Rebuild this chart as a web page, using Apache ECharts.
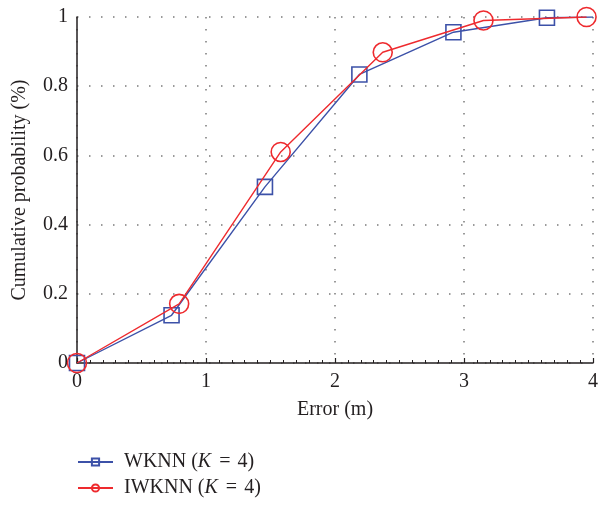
<!DOCTYPE html>
<html>
<head>
<meta charset="utf-8">
<script src="https://cdn.jsdelivr.net/npm/echarts@6/dist/echarts.min.js"></script>
<style>html,body{margin:0;padding:0;background:#fff;}#c{width:605px;height:505px;}</style>
</head>
<body>
<div id="c"></div>
<script>
// ---- data ----
const wknnX = [0, 0.733, 1.457, 2.189, 2.918, 3.643, 4.0];
const wknnY = [0, 0.138, 0.509, 0.834, 0.956, 0.998, 1.0];
const wknnMarker = [1, 1, 1, 1, 1, 1, 0];
const iwknnX = [0, 0.792, 1.579, 2.370, 3.151, 3.950];
const iwknnY = [0, 0.171, 0.610, 0.898, 0.990, 1.0];
const iwknnMarker = [1, 1, 1, 1, 1, 1];
const seriesNames = ['WKNN', 'IWKNN'];
const kLabel = 'K';
const kValue = '4';
const xTicks = [0, 1, 2, 3, 4];
const yTicks = [0, 0.2, 0.4, 0.6, 0.8, 1];
const xName = 'Error (m)';
const yName = 'Cumulative probability (%)';

const BLUE = '#3c51a8';
const RED = '#ee2a2e';
const INK = '#231f20';
const FONT = '"Liberation Serif", "DejaVu Serif", serif';
const FS = 20;

function buildData(xs, ys, marks) {
  return xs.map((x, i) => {
    const d = { value: [x, ys[i]] };
    if (!marks[i]) d.symbol = 'none';
    return d;
  });
}
function legendName(base) {
  return base + ' (' + kLabel + ' = ' + kValue + ')';
}

const chart = echarts.init(document.getElementById('c'), null, { renderer: 'canvas' });
chart.setOption({
  backgroundColor: '#fff',
  animation: false,
  textStyle: { fontFamily: FONT, color: INK },
  grid: { left: 77, right: 12, top: 17, bottom: 142, containLabel: false },
  legend: {
    orient: 'vertical',
    left: 77,
    top: 452,
    padding: 0,
    itemWidth: 35,
    itemHeight: 9,
    itemGap: 6,
    data: seriesNames.map(legendName),
    formatter: function (name) {
      const base = name.split(' (')[0];
      return '{n|' + base + ' (}{k|' + kLabel + '}{e| = }{n|' + kValue + ')}';
    },
    textStyle: {
      rich: {
        n: { fontFamily: FONT, fontSize: FS, color: INK, lineHeight: 21 },
        k: { fontFamily: FONT, fontSize: FS, color: INK, fontStyle: 'italic', lineHeight: 21 },
        e: { fontFamily: FONT, fontSize: FS, color: INK, lineHeight: 21, padding: [0, 2, 0, 3] }
      },
      padding: [0, 0, 0, 6]
    }
  },
  xAxis: {
    type: 'value',
    min: xTicks[0],
    max: xTicks[xTicks.length - 1],
    interval: 1,
    name: xName,
    nameLocation: 'middle',
    nameGap: 37,
    nameTextStyle: { fontFamily: FONT, fontSize: FS, color: INK },
    axisLine: { show: true, onZero: false, lineStyle: { color: INK, width: 1.5 } },
    axisTick: { show: true, inside: true, length: 5, lineStyle: { color: INK, width: 1.2 } },
    minorTick: { show: true, splitNumber: 10, length: 3, lineStyle: { color: INK, width: 1 } },
    axisLabel: { fontFamily: FONT, fontSize: FS, color: INK, margin: 9 },
    splitLine: { show: true, lineStyle: { color: '#7a7a7a', width: 1.5, type: [1.5, 10.5] } }
  },
  yAxis: {
    type: 'value',
    min: yTicks[0],
    max: yTicks[yTicks.length - 1],
    interval: 0.2,
    name: yName,
    nameLocation: 'middle',
    nameGap: 47,
    nameTextStyle: { fontFamily: FONT, fontSize: FS, color: INK },
    axisLine: { show: true, onZero: false, lineStyle: { color: INK, width: 1.5 } },
    axisTick: { show: false },
    axisLabel: { fontFamily: FONT, fontSize: FS, color: INK, margin: 9 },
    splitLine: { show: true, lineStyle: { color: '#7a7a7a', width: 1.5, type: [1.5, 10.5] } }
  },
  series: [
    {
      name: legendName(seriesNames[0]),
      type: 'line',
      data: buildData(wknnX, wknnY, wknnMarker),
      symbol: 'rect',
      symbolSize: 15,
      showAllSymbol: true,
      lineStyle: { color: BLUE, width: 1.4 },
      itemStyle: { color: 'rgba(0,0,0,0)', borderColor: BLUE, borderWidth: 1.6 },
      z: 2
    },
    {
      name: legendName(seriesNames[1]),
      type: 'line',
      data: buildData(iwknnX, iwknnY, iwknnMarker),
      symbol: 'circle',
      symbolSize: 19,
      showAllSymbol: true,
      lineStyle: { color: RED, width: 1.4 },
      itemStyle: { color: 'rgba(0,0,0,0)', borderColor: RED, borderWidth: 1.6 },
      z: 3
    }
  ]
});
</script>
</body>
</html>
